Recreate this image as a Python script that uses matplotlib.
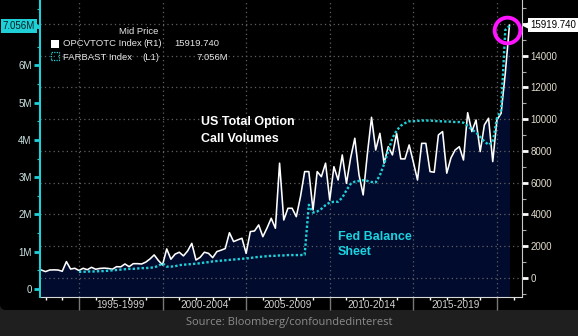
import matplotlib.pyplot as plt
import numpy as np
from matplotlib.patches import Rectangle, FancyBboxPatch
from matplotlib.transforms import IdentityTransform, ScaledTranslation
from matplotlib.ticker import MultipleLocator

plt.rcParams['font.family'] = ['Liberation Sans', 'DejaVu Sans']

# quarterly data, first quarter plotted at 1992.75
start_year = 1992.75
opc = [
    500, 400, 500, 510, 500, 420, 1030, 560, 610, 470,
    610, 520, 670, 550, 600, 620, 600, 550, 710, 700,
    880, 710, 900, 900, 880, 1000, 1200, 1450, 1100, 820,
    1830, 1180, 1500, 1620, 1390, 1700, 2180, 1130, 1300, 1620,
    1550, 1280, 1660, 1750, 1850, 2850, 2290, 2400, 2500, 1550,
    2920, 2960, 3340, 2600, 3150, 3760, 3130, 7230, 3650, 4390,
    4390, 3860, 5120, 6700, 6700, 4280, 6700, 6380, 7230, 4910,
    7010, 6170, 7750, 5960, 7560, 8800, 6500, 5230, 7800, 10120,
    8060, 9110, 7230, 8270, 7750, 9110, 7500, 7500, 8380, 7300,
    6170, 8480, 8480, 6700, 6660, 9010, 9220, 6600, 7560, 8060,
    8270, 7430, 10410, 9220, 9950, 7960, 9640, 10060, 7330, 9950,
    10370, 12890, 15919.74]

# Fed balance sheet in M, starts 1995
far_start = 1995.0
far = [
    0.46, 0.46, 0.47, 0.47, 0.47, 0.48, 0.48, 0.49, 0.50, 0.51,
    0.52, 0.53, 0.54, 0.54, 0.55, 0.56, 0.56, 0.57, 0.58, 0.62,
    0.69, 0.60, 0.60, 0.61, 0.64, 0.65, 0.66, 0.67, 0.68, 0.69,
    0.71, 0.72, 0.74, 0.75, 0.76, 0.77, 0.78, 0.79, 0.80, 0.81,
    0.82, 0.83, 0.85, 0.86, 0.87, 0.88, 0.89, 0.89, 0.90, 0.90,
    0.91, 0.91, 0.91, 0.91, 0.92, 2.26, 2.05, 2.08, 2.15, 2.25,
    2.32, 2.34, 2.34, 2.45, 2.65, 2.82, 2.88, 2.90, 2.92, 2.90,
    2.87, 2.86, 3.05, 3.35, 3.70, 4.05, 4.25, 4.38, 4.45, 4.50,
    4.50, 4.51, 4.52, 4.52, 4.52, 4.51, 4.50, 4.50, 4.49, 4.49,
    4.48, 4.48, 4.46, 4.38, 4.28, 4.20, 4.08, 3.96, 3.87, 3.94,
    4.58, 4.80, 6.95, 7.056]

periods = ['1995-1999', '2000-2004', '2005-2009', '2010-2014', '2015-2019']
period_mid = [1997.5, 2002.5, 2007.5, 2012.5, 2017.5]
period_edges = [1995, 2000, 2005, 2010, 2015, 2020]
right_ticks = [0, 2000, 4000, 6000, 8000, 10000, 12000, 14000, 16000]
right_labels = ['0', '2000', '4000', '6000', '8000', '10000', '12000', '14000', '']
left_ticks = [0, 1, 2, 3, 4, 5, 6]
left_labels = ['0', '1M', '2M', '3M', '4M', '5M', '6M']
last_opc = '15919.740'
last_far = '7.056M'

t = start_year + 0.25 * np.arange(len(opc))
tf = far_start + 0.25 * np.arange(len(far))

CYAN = '#1fd0d8'
W, H = 578, 336
def fx(x): return x / W
def fy(y): return 1 - y / H

fig = plt.figure(figsize=(W / 100, H / 100), dpi=100, facecolor='#1f1f1f')
fig.add_artist(FancyBboxPatch((0, 26), W + 20, H, boxstyle='round,pad=0,rounding_size=6',
                              transform=IdentityTransform(), fc='black', ec='none', zorder=0))

ax = fig.add_axes([fx(40), fy(297), 482 / W, 297 / H])
axl = ax.twinx()   # twinx flips ax's ticks to the left, so set sides afterwards

# right axis: option call volumes
ax.set_facecolor('black')
ax.fill_between(t, opc, -1200, color='#010b2e', lw=0)
ax.plot(t, opc, color='white', lw=1.15)
ax.set_xlim(1992.67, 2021.5)
ax.set_ylim(-1200, 17510)

ax.yaxis.tick_right()
ax.set_yticks(right_ticks)
ax.set_yticklabels(right_labels)
ax.yaxis.set_minor_locator(MultipleLocator(1000))
ax.set_xticks(period_edges)
ax.set_xticklabels([])
ax.xaxis.set_minor_locator(MultipleLocator(1))
ax.grid(True, which='major', color='#606060', linestyle=(0, (1, 2.5)), linewidth=0.9)
ax.tick_params(axis='x', which='major', length=9.5, color='#777777', width=1)
ax.tick_params(axis='x', which='minor', length=2.5, color='white', width=1)
ax.tick_params(axis='y', which='major', right=True, left=False, labelright=True, labelleft=False,
               length=4, width=2, color='white', labelcolor='#e3dccd', labelsize=7, pad=2)
ax.tick_params(axis='y', which='minor', right=True, left=False, length=3, width=0.8, color='#aaaaaa')
for s in ['top', 'left']:
    ax.spines[s].set_visible(False)
ax.spines['right'].set_color('#c8c8c8')
ax.spines['bottom'].set_color('#d8d8d8')

for p, m in zip(periods, period_mid):
    ax.text(m, -8 / 297, p, transform=ax.get_xaxis_transform(), ha='center', va='center',
            color='#d0d0d0', fontsize=7.2)

# left axis: Fed balance sheet
axl.plot(tf, far, color=CYAN, lw=1.7, ls=(0, (1, 0.9)))
axl.set_ylim(-0.215, 7.754)
axl.set_yticks(left_ticks)
axl.set_yticklabels(left_labels)
axl.yaxis.set_minor_locator(MultipleLocator(0.5))
axl.tick_params(axis='y', which='major', left=True, right=False, labelleft=True, labelright=False,
                length=4, width=2, color=CYAN, labelcolor='#cde3e3', labelsize=7, pad=2)
axl.tick_params(axis='y', which='minor', left=True, right=False, length=2.5, width=0.8, color=CYAN)
for s in ['top', 'right', 'bottom']:
    axl.spines[s].set_visible(False)
axl.spines['left'].set_color(CYAN)
axl.spines['left'].set_linewidth(1.5)

# last value tags
axl.annotate(last_far, xy=(0, far[-1]), xycoords=axl.get_yaxis_transform(),
             xytext=(-3.5, 0), textcoords='offset points', ha='right', va='center',
             fontsize=7, color='#05201f',
             bbox=dict(boxstyle='square,pad=0.2', fc=CYAN, ec='none'), annotation_clip=False)
axl.plot([0], [far[-1]], marker='>', ms=5, color=CYAN, clip_on=False,
         transform=axl.get_yaxis_transform() + ScaledTranslation(-0.03, 0, fig.dpi_scale_trans))
ax.annotate(last_opc, xy=(1, opc[-1]), xycoords=ax.get_yaxis_transform(),
            xytext=(6, 0), textcoords='offset points', ha='left', va='center',
            fontsize=7, color='black',
            bbox=dict(boxstyle='square,pad=0.2', fc='white', ec='none'), annotation_clip=False)
ax.plot([1], [opc[-1]], marker='<', ms=5, color='white', clip_on=False,
        transform=ax.get_yaxis_transform() + ScaledTranslation(0.04, 0, fig.dpi_scale_trans))

# highlight ring on the latest print
axl.plot([t[-1]], [opc[-1]], 'o', ms=18.5, mfc='none', mec='#ff14ff', mew=2.8, clip_on=False,
         transform=ax.transData + ScaledTranslation(-0.02, -0.043, fig.dpi_scale_trans))

# legend
LEG = dict(va='center', color='#e6e6e6', fontsize=6.8)
fig.text(fx(139), fy(32), 'Mid Price', ha='center', **LEG)
fig.add_artist(Rectangle((fx(51), fy(48)), 8 / W, 8 / H, transform=fig.transFigure, fc='white', ec='none'))
fig.text(fx(63), fy(44), 'OPCVTOTC Index', ha='left', **LEG)
fig.text(fx(143), fy(44), '(R1)', ha='left', **LEG)
fig.text(fx(174), fy(44), last_opc, ha='left', **LEG)
fig.add_artist(Rectangle((fx(51), fy(60)), 8 / W, 8 / H, transform=fig.transFigure, fill=False,
                         ec=CYAN, lw=0.9, ls=(0, (1, 1))))
fig.text(fx(63), fy(57), 'FARBAST Index', ha='left', **LEG)
fig.text(fx(142), fy(57), '(L1)', ha='left', **LEG)
fig.text(fx(228), fy(57), last_far, ha='right', **LEG)

# series notes
fig.text(fx(201), fy(125.5), 'US Total Option', ha='left', va='baseline', color='white',
         fontsize=9, weight='bold')
fig.text(fx(201), fy(141.7), 'Call Volumes', ha='left', va='baseline', color='white',
         fontsize=9, weight='bold')
fig.text(fx(338), fy(240), 'Fed Balance', ha='left', va='baseline', color='#1ad3e0',
         fontsize=9, weight='bold')
fig.text(fx(338), fy(255), 'Sheet', ha='left', va='baseline', color='#1ad3e0',
         fontsize=9, weight='bold')

fig.text(fx(289), fy(322), 'Source: Bloomberg/confoundedinterest', ha='center', va='center',
         color='#8c8c8c', fontsize=8, family=['Open Sans', 'DejaVu Sans'])

fig.savefig('out.png', dpi=100, facecolor=fig.get_facecolor())
